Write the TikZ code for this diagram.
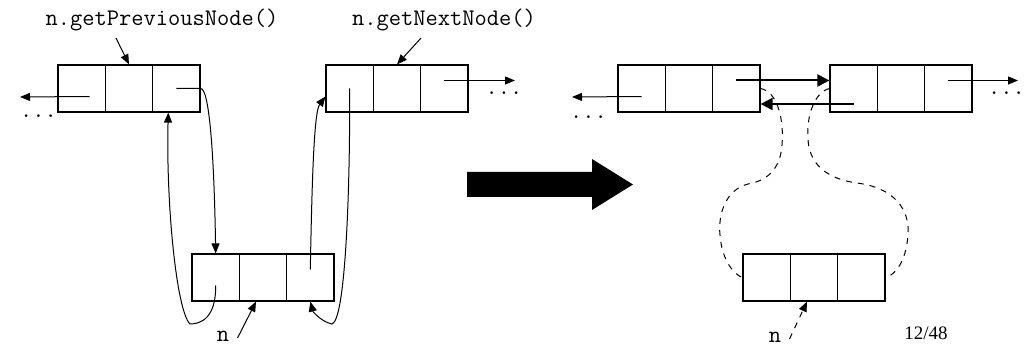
\documentclass[tikz,border=0pt]{standalone}
\usepackage{fontspec}
\setmainfont{Liberation Serif}
\usetikzlibrary{arrows.meta}

\begin{document}
\begin{tikzpicture}[x=0.5pt, y=-0.5pt,
  cell/.style={draw, minimum width=23.67pt, minimum height=23.5pt, inner sep=0pt, line width=0.6pt},
  code/.style={font=\fontsize{11.9}{13}\selectfont\ttfamily},
  ptr/.style={-{Triangle[length=5pt,width=4pt]}, line width=0.5pt},
  bold ptr/.style={-{Triangle[length=6pt,width=6pt]}, line width=1pt},
  link/.style={dashed, line width=0.5pt}]
\useasboundingbox (0,0) rectangle (1027,347);

% Before: previous node
\node[cell] (pa1) at (81.7,88.5) {};
\node[cell] (pa2) at (129,88.5) {};
\node[cell] (pa3) at (176.3,88.5) {};
\node[code] (dotsa) at (38.5,116) {...};
\coordinate (lenda) at (20,97);

% Before: next node
\node[cell] (na1) at (349.7,88.5) {};
\node[cell] (na2) at (397,88.5) {};
\node[cell] (na3) at (444.3,88.5) {};
\node[code] (dotsb) at (504,93) {...};
\coordinate (renda) at (515,80.5);

% Before: node n
\node[cell] (ma1) at (215.7,277.5) {};
\node[cell] (ma2) at (263,277.5) {};
\node[cell] (ma3) at (310.3,277.5) {};

% Labels
\node[code] (prevlbl) at (162,20) {n.getPreviousNode()};
\node[code] (nextlbl) at (444,20) {n.getNextNode()};
\node[code, inner sep=1pt] (nlbla) at (223,336) {n};

% Before: pointers
\draw[ptr] ([xshift=4pt,yshift=-4pt]pa1.center) -- (lenda);
\draw[ptr] ([yshift=4pt]na3.center) -- (renda);
\draw[ptr] ([xshift=-23pt]prevlbl.south) -- (pa2.north);
\draw[ptr] ([xshift=-11.5pt]nextlbl.south) -- (na2.north);
\draw[ptr] ([xshift=3pt,yshift=-1pt]nlbla.east) -- ([xshift=-3.5pt]ma2.south);
\draw[ptr] (pa3.center) -- (pa3.east)
  .. controls (209,88) and (214,150) .. (ma1.north);
\draw[ptr] ([yshift=-4pt]ma1.center) .. controls (216,318) and (201,324) .. (190,324)
  .. controls (176,310) and (166,200) .. ([xshift=-4pt]pa3.south);
\draw[ptr] ([yshift=4pt]ma3.center) .. controls (312,180) and (314,112) .. ([yshift=-4pt]na1.west);
\draw[ptr] (na1.center) .. controls (350,200) and (345,320) .. (332,324)
  .. controls (322,322) and (313,312) .. (ma3.south);

% Big arrow
\fill (467,172) -- (592,172) -- (592,159) -- (633,184.5) -- (592,210) -- (592,197) -- (467,197) -- cycle;

% After: previous node
\node[cell] (pb1) at (641.7,88.5) {};
\node[cell] (pb2) at (689,88.5) {};
\node[cell] (pb3) at (736.3,88.5) {};
\node[code] (dotsc) at (588.5,117) {...};
\coordinate (lendb) at (572,97);

% After: next node
\node[cell] (nb1) at (853.7,88.5) {};
\node[cell] (nb2) at (901,88.5) {};
\node[cell] (nb3) at (948.3,88.5) {};
\node[code] (dotsd) at (1006.5,93) {...};
\coordinate (rendb) at (1018,80.5);

% After: node n
\node[cell] (mb1) at (766.7,277.5) {};
\node[cell] (mb2) at (814,277.5) {};
\node[cell] (mb3) at (861.3,277.5) {};
\node[code, inner sep=1pt] (nlblb) at (775,337) {n};

% After: pointers
\draw[ptr] ([yshift=-4pt]pb1.center) -- (lendb);
\draw[ptr] ([yshift=4pt]nb3.center) -- (rendb);
\draw[bold ptr] ([yshift=4pt]pb3.center) -- ([yshift=4pt]nb1.west);
\draw[bold ptr] ([yshift=-7.75pt]nb1.center) -- ([yshift=-7.75pt]pb3.east);
\draw[ptr, dashed] ([xshift=3pt,yshift=-1pt]nlblb.east) -- ([xshift=-3.5pt]mb2.south);
\draw[link] (pb3.east) .. controls (778,92) and (784,120) .. (782,145)
  .. controls (780,175) and (760,182) .. (748,184)
  .. controls (725,190) and (718,215) .. (720,235)
  .. controls (722,262) and (735,275) .. (mb1.west);
\draw[link] (nb1.west) .. controls (815,92) and (806,115) .. (808,140)
  .. controls (810,170) and (835,180) .. (857,183)
  .. controls (895,188) and (910,210) .. (908,235)
  .. controls (906,262) and (895,275) .. (mb3.east);

% Page number
\node[font=\fontsize{9.5}{11}\selectfont] (page) at (926,333) {12/48};
\end{tikzpicture}
\end{document}
